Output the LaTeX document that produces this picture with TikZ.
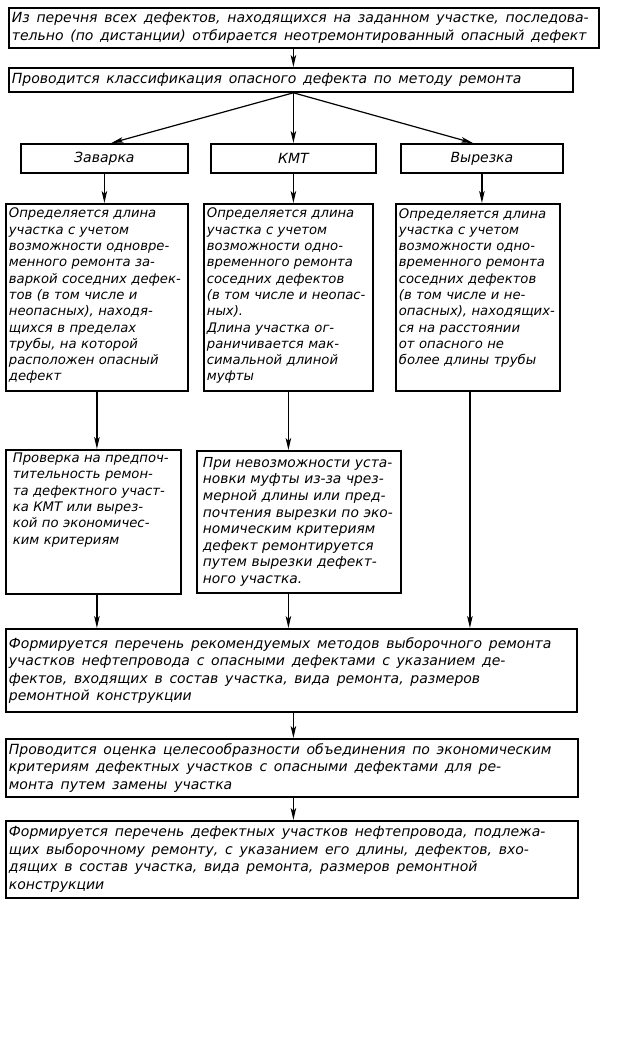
\documentclass[tikz,border=0pt]{standalone}
\usepackage{fontspec}
\setmainfont{DejaVu Sans}
\usetikzlibrary{arrows.meta, calc}
\newcommand\widespace{\spaceskip=0.48em plus 0.1em minus 0.05em\relax}

\begin{document}
\begin{tikzpicture}[x=1pt, y=-1pt,
    box/.style={draw, line width=1.8pt, anchor=north west, align=left,
                inner xsep=3pt, inner ysep=2pt,
                font=\fontsize{13.2}{16.3}\selectfont\itshape},
    wide/.style={box, font=\fontsize{14}{17.5}\selectfont\itshape,
                 execute at begin node={\widespace}},
    head/.style={box, align=center, font=\fontsize{14}{16}\selectfont\itshape},
    topfill/.style={execute at end node={\endgraf\vspace*{#1}}},
    arr/.style={-{Stealth[length=12pt, width=5.5pt, inset=3pt]}, line width=1.2pt}
  ]
  \useasboundingbox (0,0) rectangle (638,1040);

  % selection and classification
  \node[wide, minimum width=590pt, minimum height=40pt, text width=584pt] (sel) at (8,7)
    {Из перечня всех дефектов, находящихся на заданном участке, последова-\\
     тельно (по дистанции) отбирается неотремонтированный опасный дефект};
  \node[wide, minimum width=564pt, minimum height=24pt, text width=558pt] (cls) at (8,67)
    {Проводится классификация опасного дефекта по методу ремонта};

  % repair methods
  \node[head, minimum width=167pt, minimum height=29pt, text width=161pt] (zav) at (20,143) {Заварка};
  \node[head, minimum width=165pt, minimum height=29pt, text width=159pt] (kmt) at (210,143) {КМТ};
  \node[head, minimum width=162pt, minimum height=29pt, text width=156pt] (vyr) at (400,143) {Вырезка};

  % section length
  \node[box, minimum width=182pt, minimum height=187pt, text width=176pt, topfill=3pt] (zavlen) at (5,203)
    {Определяется длина\\ участка с учетом\\ возможности одновре-\\ менного ремонта за-\\
     варкой соседних дефек-\\ тов (в том числе и\\ неопасных), находя-\\ щихся в пределах\\
     трубы, на которой\\ расположен опасный\\ дефект};
  \node[box, minimum width=169pt, minimum height=187pt, text width=163pt, topfill=3pt] (kmtlen) at (203,203)
    {Определяется длина\\ участка с учетом\\ возможности одно-\\ временного ремонта\\
     соседних дефектов\\ (в том числе и неопас-\\ ных).\\ Длина участка ог-\\
     раничивается мак-\\ симальной длиной\\ муфты};
  \node[box, minimum width=164pt, minimum height=187pt, text width=158pt, topfill=19pt] (vyrlen) at (395,203)
    {Определяется длина\\ участка с учетом\\ возможности одно-\\ временного ремонта\\
     соседних дефектов\\ (в том числе и не-\\ опасных), находящих-\\ ся на расстоянии\\
     от опасного не\\ более длины трубы};

  % checks
  \node[box, minimum width=175pt, minimum height=144pt, text width=161pt, inner xsep=7pt,
        topfill=44pt] (check) at (5,449)
    {Проверка на предпоч-\\ тительность ремон-\\ та дефектного участ-\\ ка КМТ или вырез-\\
     кой по экономичес-\\ ким критериям};
  \node[box, minimum width=204pt, minimum height=142pt, text width=192pt, inner xsep=6pt,
        font=\fontsize{13.8}{16.6}\selectfont\itshape] (cut) at (196,450)
    {При невозможности уста-\\ новки муфты из-за чрез-\\ мерной длины или пред-\\
     почтения вырезки по эко-\\ номическим критериям\\ дефект ремонтируется\\
     путем вырезки дефект-\\ ного участка.};

  % lists
  \node[wide, minimum width=571pt, minimum height=83pt, text width=565pt] (list) at (5,628)
    {Формируется перечень рекомендуемых методов выборочного ремонта\\
     участков нефтепровода с опасными дефектами с указанием де-\\
     фектов, входящих в состав участка, вида ремонта, размеров\\
     ремонтной конструкции};
  \node[wide, minimum width=572pt, minimum height=58pt, text width=566pt] (merge) at (5,738)
    {Проводится оценка целесообразности объединения по экономическим\\
     критериям дефектных участков с опасными дефектами для ре-\\
     монта путем замены участка};
  \node[wide, minimum width=572pt, minimum height=77pt, text width=566pt] (final) at (5,820)
    {Формируется перечень дефектных участков нефтепровода, подлежа-\\
     щих выборочному ремонту, с указанием его длины, дефектов, вхо-\\
     дящих в состав участка, вида ремонта, размеров ремонтной\\
     конструкции};

  % connectors
  \draw[arr] (sel.south -| kmt) -- (cls.north -| kmt);
  \draw[arr] (cls.south -| kmt) -- ([xshift=7pt]zav.north);
  \draw[arr] (cls.south -| kmt) -- (kmt.north);
  \draw[arr] (cls.south -| kmt) -- ([xshift=-9pt]vyr.north);
  \foreach \a/\b in {zav/zavlen, kmt/kmtlen, vyr/vyrlen} { \draw[arr] (\a.south) -- (\a.south |- \b.north); }
  \draw[arr] (zavlen.south) -- (zavlen.south |- check.north);
  \draw[arr] (kmtlen.south) -- (kmtlen.south |- cut.north);
  \draw[arr] ([xshift=-8pt]vyrlen.south) -- ([xshift=-8pt]vyrlen.south |- list.north);
  \draw[arr] (check.south -| zavlen.south) -- (list.north -| zavlen.south);
  \draw[arr] (cut.south -| kmtlen.south) -- (list.north -| kmtlen.south);
  \draw[arr] (list.south -| kmt) -- (merge.north -| kmt);
  \draw[arr] (merge.south -| kmt) -- (final.north -| kmt);
\end{tikzpicture}
\end{document}
